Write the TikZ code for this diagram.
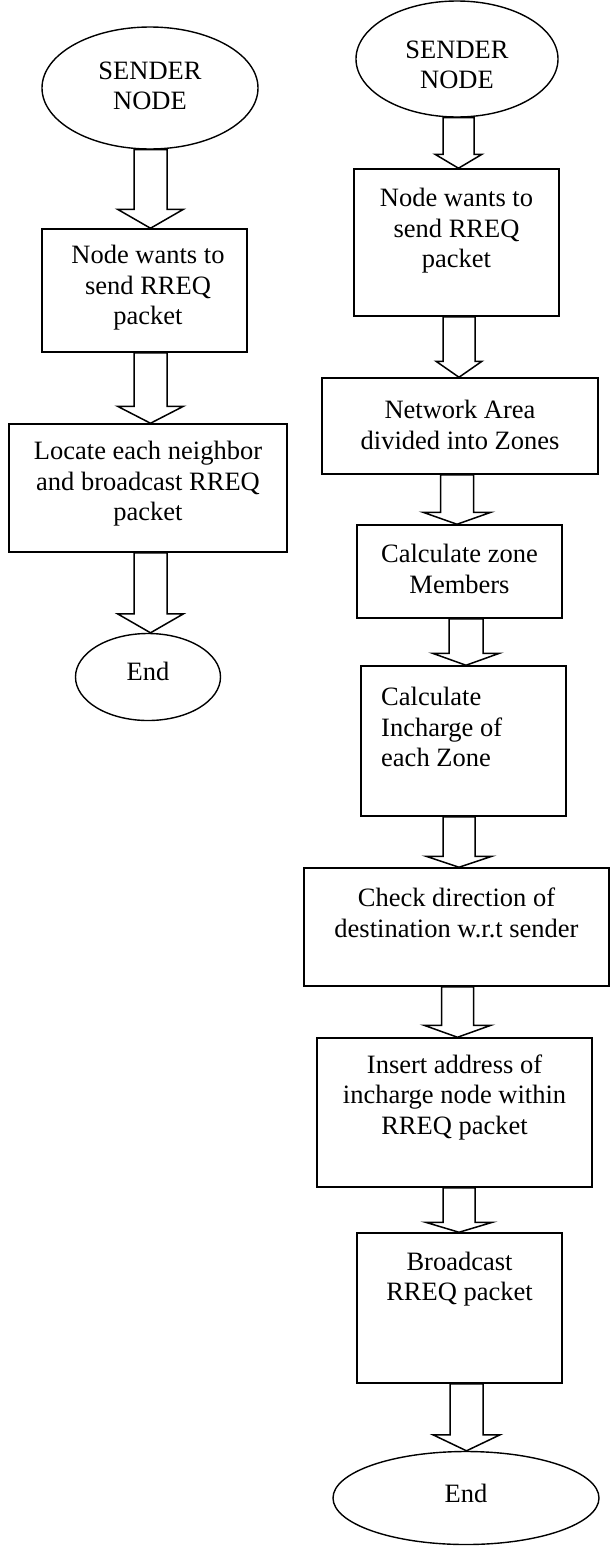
\documentclass[tikz,border=0pt]{standalone}
\usepackage{fontspec}
\setmainfont{Liberation Serif}
\usetikzlibrary{shapes.geometric,calc}
\tikzset{
  box/.style={draw, line width=1.5pt, rectangle, inner sep=0pt},
  oval/.style={draw, line width=1.4pt, ellipse, inner sep=0pt},
  txt/.style={font=\fontsize{26.5}{30.5}\selectfont, align=center, inner sep=0pt},
  barr/.style={draw, line width=1.5pt, line join=miter, fill=white},
}
% from, to, x, shaft half width, head half width, head length
\newcommand\blockarrow[6]{%
  \draw[barr] let \p1=(#1.south), \p2=(#2.north) in
    (#3pt-#4pt,\y1) -- (#3pt-#4pt,\y2+#6pt) -- (#3pt-#5pt,\y2+#6pt) -- (#3pt,\y2)
    -- (#3pt+#5pt,\y2+#6pt) -- (#3pt+#4pt,\y2+#6pt) -- (#3pt+#4pt,\y1) -- cycle;}
\begin{document}
\begin{tikzpicture}[x=1pt,y=-1pt]
\useasboundingbox (0,0) rectangle (611,1547);
% ---------- left column ----------
\node[oval, minimum width=216pt, minimum height=122pt] (ls) at (150,88) {};
\node[txt] (lst) at (150,86) {SENDER\\NODE};
\node[box, minimum width=205pt, minimum height=123pt] (l1) at (144.5,290.5) {};
\node[txt] (l1t) at (148,288) {Node wants to\\send RREQ\\packet};
\node[box, minimum width=278pt, minimum height=128pt] (l2) at (148,488) {};
\node[txt] (l2t) at (148,484) {Locate each neighbor\\and broadcast RREQ\\packet};
\node[oval, minimum width=145pt, minimum height=87pt] (le) at (148,677) {};
\node[txt] (let) at (148,671) {End};
\blockarrow{ls}{l1}{150.5}{16.5}{33}{19}
\blockarrow{l1}{l2}{150.5}{16.5}{33}{17}
\blockarrow{l2}{le}{150.5}{16.5}{33}{19}
% ---------- right column ----------
\node[oval, minimum width=202pt, minimum height=116pt] (rs) at (457,59) {};
\node[txt] (rst) at (457,65) {SENDER\\NODE};
\node[box, minimum width=205pt, minimum height=147pt] (r1) at (456.5,242.5) {};
\node[txt] (r1t) at (456.5,231) {Node wants to\\send RREQ\\packet};
\node[box, minimum width=276pt, minimum height=96pt] (r2) at (460,426) {};
\node[txt] (r2t) at (460,425) {Network Area\\divided into Zones};
\node[box, minimum width=205pt, minimum height=93pt] (r3) at (459.5,571.5) {};
\node[txt] (r3t) at (459.5,569) {Calculate zone\\Members};
\node[box, minimum width=205pt, minimum height=150pt] (r4) at (463.5,741) {};
\node[txt, align=left, anchor=west] (r4t) at (381,727) {Calculate\\Incharge of\\each Zone};
\node[box, minimum width=305pt, minimum height=118pt] (r5) at (456.5,927) {};
\node[txt] (r5t) at (456.5,913) {Check direction of\\destination w.r.t sender};
\node[box, minimum width=275pt, minimum height=149pt] (r6) at (454.5,1112.5) {};
\node[txt] (r6t) at (454.5,1097) {Insert address of\\incharge node within\\RREQ packet};
\node[box, minimum width=205pt, minimum height=150pt] (r7) at (459.5,1308) {};
\node[txt] (r7t) at (459.5,1279) {Broadcast\\RREQ packet};
\node[oval, minimum width=266pt, minimum height=93pt] (re) at (466,1498) {};
\node[txt] (ret) at (466,1493) {End};
\blockarrow{rs}{r1}{458.5}{15.5}{23.5}{14}
\blockarrow{r1}{r2}{459}{16}{23}{16}
\blockarrow{r2}{r3}{457}{16.5}{34}{12}
\blockarrow{r3}{r4}{466}{17}{33.5}{12}
\blockarrow{r4}{r5}{459}{16}{33}{11}
\blockarrow{r5}{r6}{457.5}{16}{33.5}{12}
\blockarrow{r6}{r7}{459}{16}{33.5}{10}
\blockarrow{r7}{re}{466.5}{16.5}{33.5}{16}
\end{tikzpicture}
\end{document}
